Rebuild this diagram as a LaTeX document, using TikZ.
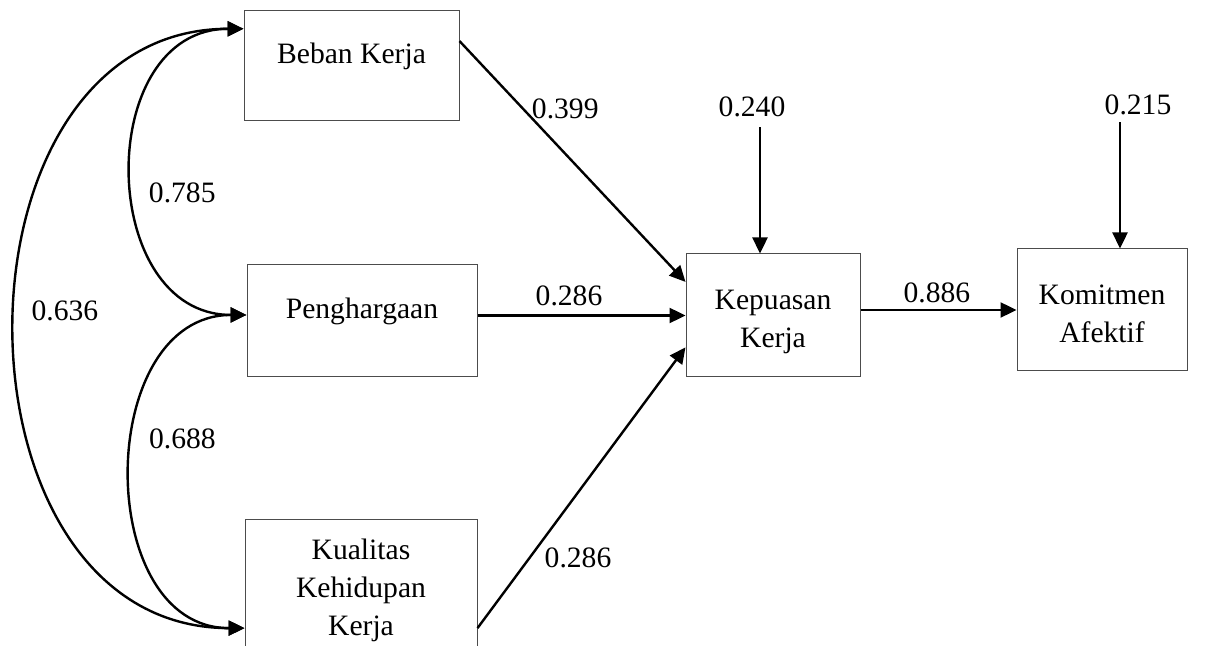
\documentclass[tikz,border=0pt]{standalone}
\usepackage{fontspec}
\setmainfont{Liberation Serif}
\usetikzlibrary{arrows.meta}

\newcommand{\boxstrut}[1]{\rule{0pt}{#1}}

\begin{document}
\begin{tikzpicture}[
    x=0.5pt, y=-0.5pt,
    >={Triangle[length=8pt,width=7.5pt]},
    font=\fontsize{14.8}{19}\selectfont,
    box/.style={draw=black!70, line width=0.5pt, align=center, inner sep=0pt},
    causal/.style={->, line width=1.2pt},
    corr/.style={<->, line width=1.2pt},
    lbl/.style={inner sep=1pt}
]
\useasboundingbox (0,0) rectangle (1205,646);

\node[box, minimum width=107.5pt, minimum height=55pt, text depth=12.5pt] (beban) at (351.5,66) {Beban Kerja};
\node[box, minimum width=115pt, minimum height=56pt, text depth=12.5pt] (penghargaan) at (362,321) {Penghargaan};
\node[box, minimum width=116pt, minimum height=68pt] (kualitas) at (361,588) {\boxstrut{13pt}Kualitas\\Kehidupan\\Kerja};
\node[box, minimum width=87pt, minimum height=61.5pt] (kepuasan) at (773,315.5) {\boxstrut{16pt}Kepuasan\\Kerja};
\node[box, minimum width=85pt, minimum height=61pt] (komitmen) at (1102,310) {\boxstrut{13.5pt}Komitmen\\Afektif};

\node[lbl] (e1) at (752,107) {0.240};
\node[lbl] (e2) at (1138,105) {0.215};

\path[causal]
(beban.13.5) edge node[lbl, pos=0.28, anchor=west, xshift=3pt] {0.399} (kepuasan.159.5)
(kepuasan.west -| penghargaan.east) edge node[lbl, pos=0.44, above=3pt] {0.286} (kepuasan.west)
(kualitas.-19) edge node[lbl, pos=0.25, anchor=west, xshift=6pt] {0.286} (kepuasan.200.5)
(komitmen.west -| kepuasan.east) edge node[lbl, pos=0.49, above=2pt] {0.886} (komitmen.west)
([xshift=4pt]e1.south) edge[shorten <=4pt] ([xshift=4pt]e1.south |- kepuasan.north)
([xshift=-9pt]e2.south) edge[shorten <=2.5pt] ([xshift=-9pt]e2.south |- komitmen.north);

\path[corr]
(beban.161) edge[out=180, in=180, looseness=1.34] node[lbl, pos=0.55, anchor=west, xshift=6pt] {0.785} (penghargaan.177)
(penghargaan.177) edge[out=180, in=180, looseness=1.24] node[lbl, pos=0.43, anchor=west, xshift=6pt] {0.688} (kualitas.199)
(beban.161) edge[out=180, in=180, looseness=1.30] node[lbl, pos=0.48, anchor=west, xshift=6pt] {0.636} (kualitas.199);

\end{tikzpicture}
\end{document}
